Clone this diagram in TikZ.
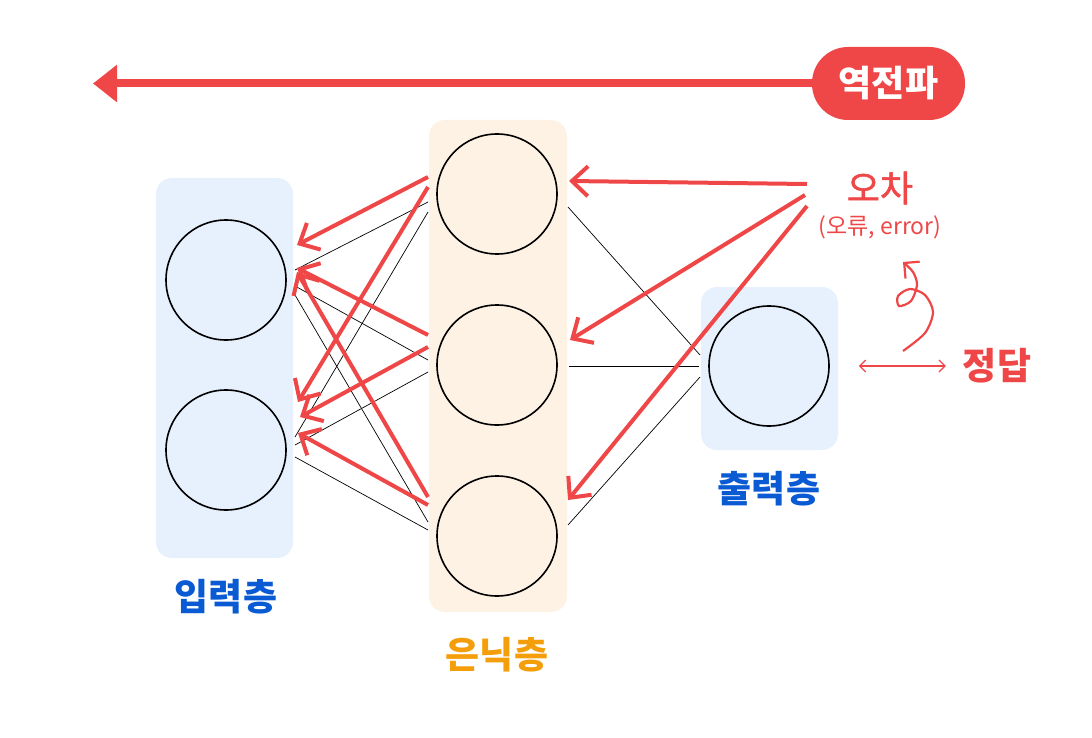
\documentclass[tikz,border=0pt]{standalone}
\usepackage{fontspec}
\newfontfamily\kr{Noto Sans CJK KR}
\newfontfamily\krmid[FakeBold=1.4]{Noto Sans CJK KR}
\usetikzlibrary{arrows.meta}
\definecolor{errred}{HTML}{EF4747}
\definecolor{layerblue}{HTML}{0A5BD3}
\definecolor{layerorange}{HTML}{F59E0B}
\definecolor{boxblue}{HTML}{E7F1FE}
\definecolor{boxpeach}{HTML}{FEF2E4}
\begin{document}
\begin{tikzpicture}[x=1pt, y=-1pt,
        neuron/.style={circle, draw=black, line width=1.6pt, minimum size=120pt, inner sep=0pt},
        wire/.style={black, line width=0.7pt},
        back/.style={errred, line width=4pt, -{Straight Barb[length=16pt,width=30pt]}},
        layerlabel/.style={font=\kr\bfseries\fontsize{37}{37}\selectfont}]
        \useasboundingbox (0,0) rectangle (1092,738);

        \fill [color=boxblue, rounded corners=16pt] (156,178) rectangle (293,558);
        \fill [color=boxpeach, rounded corners=16pt] (429,120) rectangle (567,612);
        \fill [color=boxblue, rounded corners=16pt] (701,287) rectangle (838,450);

        \node[neuron] (i1) at (226,280) {};
        \node[neuron] (i2) at (226,450) {};
        \node[neuron] (h1) at (497,194) {};
        \node[neuron] (h2) at (497,365) {};
        \node[neuron] (h3) at (497,536) {};
        \node[neuron] (o1) at (769,366) {};

        \node[layerlabel, text=layerblue] (inlabel) at (226,597) {입력층};
        \node[layerlabel, text=layerorange] (hidlabel) at (497,655) {은닉층};
        \node[layerlabel, text=layerblue] (outlabel) at (769,489) {출력층};

        \draw[wire] ([shift={(69,-10)}]i1.center) -- ([shift={(-69,8)}]h1.center);
        \draw[wire] ([shift={(69,6)}]i1.center) -- ([shift={(-69,-5)}]h2.center);
        \draw[wire] ([shift={(69,15)}]i1.center) -- ([shift={(-69,-14)}]h3.center);
        \draw[wire] ([shift={(69,-13)}]i2.center) -- ([shift={(-69,18)}]h1.center);
        \draw[wire] ([shift={(69,-5)}]i2.center) -- ([shift={(-69,7)}]h2.center);
        \draw[wire] ([shift={(69,7)}]i2.center) -- ([shift={(-69,-6)}]h3.center);
        \draw[wire] ([shift={(71,13)}]h1.center) -- ([shift={(-69,-11)}]o1.center);
        \draw[wire] ([shift={(72,1)}]h2.center) -- ([shift={(-70,0)}]o1.center);
        \draw[wire] ([shift={(71,-11)}]h3.center) -- ([shift={(-69,11)}]o1.center);

        \node[fill=errred, rounded corners=36pt, minimum width=153pt, minimum height=73pt,
            text=white, font=\kr\bfseries\fontsize{36}{36}\selectfont] (bp) at (888.5,83.5) {역전파};
        \coordinate (bpend) at (93,83.5);
        \draw[errred, line width=8pt, -{Triangle[length=24pt,width=36pt]}] (bp.west) -- (bpend);

        \node[text=errred, font=\krmid\fontsize{36}{36}\selectfont] (err) at (880,188) {오차};
        \node[text=errred, font=\kr\fontsize{23}{23}\selectfont] (errnote) at (880,227) {(오류, error)};
        \node[text=errred, font=\kr\bfseries\fontsize{37}{37}\selectfont] (answer) at (997,366) {정답};

        \draw[back] ([shift={(-73,-4)}]err.center) -- ([shift={(72,-13)}]h1.center);
        \draw[back] ([shift={(-75,7)}]err.center) -- ([shift={(73,-25)}]h2.center);
        \draw[back] ([shift={(-73,18)}]err.center) -- ([shift={(71,-36)}]h3.center);

        \draw[back] ([shift={(-69,-17)}]h1.center) -- ([shift={(71,-35)}]i1.center);
        \draw[back] ([shift={(-69,-7)}]h1.center) -- ([shift={(72,-48)}]i2.center);
        \draw[back] ([shift={(-69,-30)}]h2.center) -- ([shift={(71,-12)}]i1.center);
        \draw[back] ([shift={(-69,-18)}]h2.center) -- ([shift={(74,-33)}]i2.center);
        \draw[back] ([shift={(-69,-39)}]h3.center) -- ([shift={(71,-8)}]i1.center);
        \draw[back] ([shift={(-69,-31)}]h3.center) -- ([shift={(72,-17)}]i2.center);

        \coordinate (cmpleft) at ([shift={(29,0)}]o1.east);
        \coordinate (cmpright) at ([shift={(116,0)}]o1.east);
        \draw[errred, line width=1.2pt, {Straight Barb[length=6pt,width=12pt]}-{Straight Barb[length=6pt,width=12pt]}]
            (cmpleft) -- (cmpright);
        \draw[errred, line width=2.2pt, -{Straight Barb[length=11pt,width=22pt]}]
            plot[smooth] coordinates {(903,351) (925,333) (933,312) (925,295) (910,289) (898,296) (899,306) (911,301) (917,285) (913,272) (903,262)};
\end{tikzpicture}
\end{document}
